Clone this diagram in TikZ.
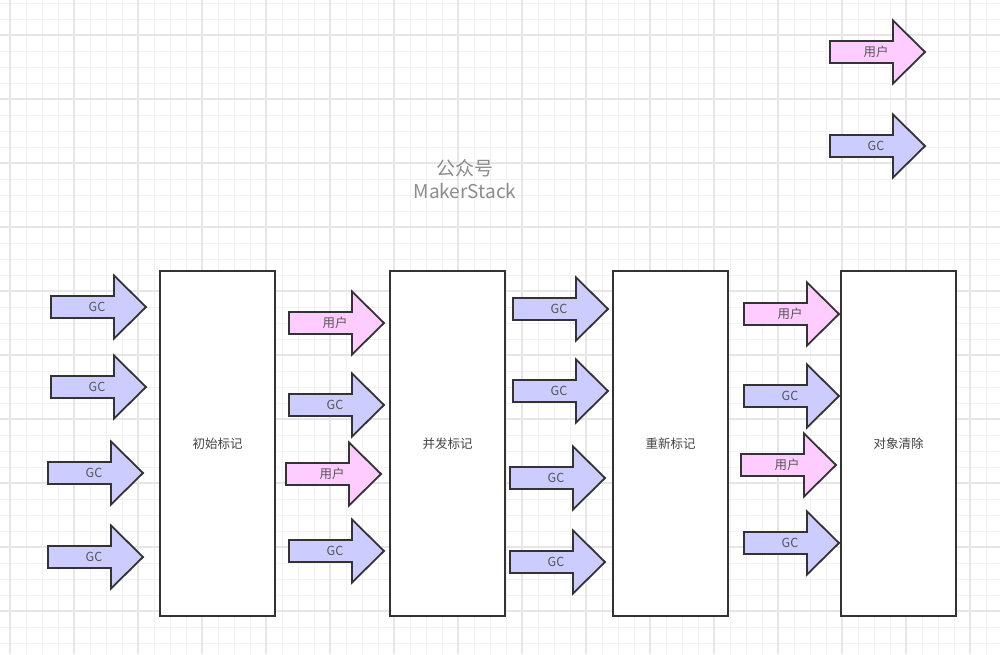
\documentclass[tikz,border=0pt]{standalone}
\usepackage{fontspec}
\setmainfont{Noto Sans CJK SC}
\definecolor{gridminor}{HTML}{F1F1F1}
\definecolor{gridmajor}{HTML}{E6E6E6}
\definecolor{gcfill}{HTML}{CCCCFF}
\definecolor{userfill}{HTML}{FFCCFF}
\definecolor{edge}{HTML}{333333}
\definecolor{lbltext}{HTML}{555555}
\definecolor{wmtext}{HTML}{8C8C8C}
\tikzset{
  arrgc/.style={draw=edge, line width=1.8pt, fill=gcfill, line join=miter},
  arruser/.style={draw=edge, line width=1.8pt, fill=userfill, line join=miter},
  lbl/.style={inner sep=0pt, text=lbltext, font=\fontsize{12.5}{14}\selectfont},
  box/.style={draw=edge, line width=1.8pt, fill=white, minimum width=115pt, minimum height=345pt, inner sep=0pt, text=lbltext!80!black, font=\fontsize{12.5}{14}\selectfont},
  wm/.style={inner sep=0pt, text=wmtext, font=\fontsize{19}{23}\selectfont}
}
\newcommand\blockarr[5]{%
  \draw[#4] (#2,#3-11) -- (#2+63,#3-11) -- (#2+63,#3-31.5) -- (#2+95,#3) -- (#2+63,#3+31.5) -- (#2+63,#3+11) -- (#2,#3+11) -- cycle;
  \node[lbl] (#1) at (#2+46,#3) {#5};}
\begin{document}
\begin{tikzpicture}[x=1pt,y=-1pt]
\useasboundingbox (0,0) rectangle (1000,654);
\fill[white] (0,0) rectangle (1000,654);
\begin{scope}
\clip (0,0) rectangle (1000,654);
\foreach \k in {-1,...,62} \draw[gridminor, line width=0.9pt] (10+16*\k,0) -- (10+16*\k,654);
\foreach \k in {0,...,41} \draw[gridminor, line width=0.9pt] (0,3+16*\k) -- (1000,3+16*\k);
\foreach \k in {0,...,15} \draw[gridmajor, line width=1.1pt] (10+64*\k,0) -- (10+64*\k,654);
\foreach \k in {-1,...,10} \draw[gridmajor, line width=1.1pt] (0,35+64*\k) -- (1000,35+64*\k);
\end{scope}

% watermark
\node[wm] (wm1) at (465,168) {公众号};
\node[wm] (wm2) at (465,191) {MakerStack};

% boxes
\node[box] (b1) at (217.5,443.5) {初始标记};
\node[box] (b2) at (447.5,443.5) {并发标记};
\node[box] (b3) at (670.5,443.5) {重新标记};
\node[box] (b4) at (898.5,443.5) {对象清除};

% legend
\blockarr{leguser}{830}{52}{arruser}{用户}
\blockarr{leggc}{830}{146}{arrgc}{GC}

% column 1
\blockarr{a11}{51}{307}{arrgc}{GC}
\blockarr{a12}{51}{387}{arrgc}{GC}
\blockarr{a13}{48}{473}{arrgc}{GC}
\blockarr{a14}{48}{557}{arrgc}{GC}

% column 2
\blockarr{a21}{289}{323}{arruser}{用户}
\blockarr{a22}{289}{405}{arrgc}{GC}
\blockarr{a23}{286}{474}{arruser}{用户}
\blockarr{a24}{289}{551}{arrgc}{GC}

% column 3
\blockarr{a31}{513}{309}{arrgc}{GC}
\blockarr{a32}{513}{391}{arrgc}{GC}
\blockarr{a33}{510}{478}{arrgc}{GC}
\blockarr{a34}{510}{562}{arrgc}{GC}

% column 4
\blockarr{a41}{744}{314}{arruser}{用户}
\blockarr{a42}{744}{396}{arrgc}{GC}
\blockarr{a43}{741}{465}{arruser}{用户}
\blockarr{a44}{744}{543}{arrgc}{GC}
\end{tikzpicture}
\end{document}
